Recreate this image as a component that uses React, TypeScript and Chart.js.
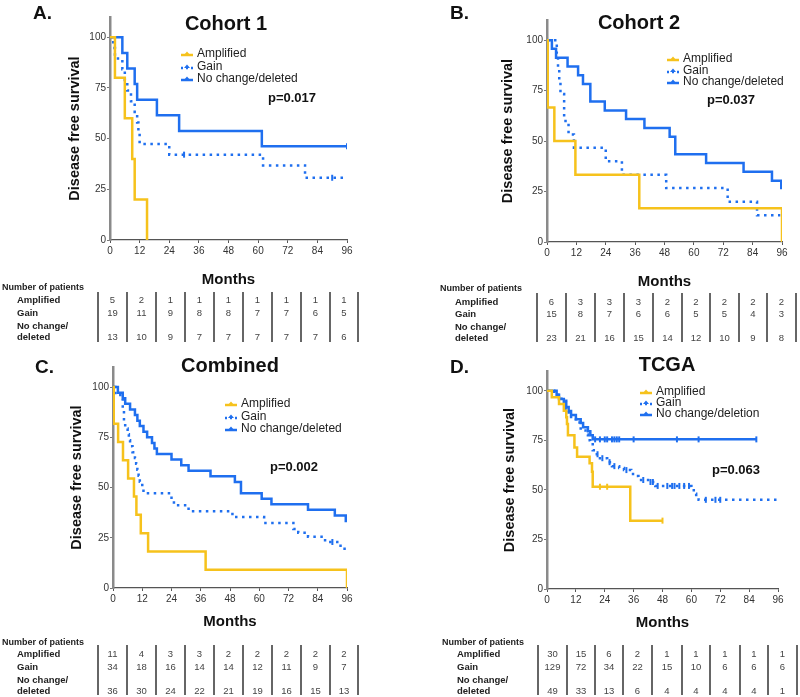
import React, { useEffect, useRef } from 'react';
import { Chart, registerables } from 'chart.js';
Chart.register(...registerables);

const FONT = "'Liberation Sans', Arial, Helvetica, sans-serif";
const YELLOW = '#F6C21C';
const BLUE = '#1F6FEF';

const monthTicks = [0, 12, 24, 36, 48, 60, 72, 84, 96];
const survivalTicks = [0, 25, 50, 75, 100];

// ---- Panel A: Cohort 1 ----
const aAmpT = [0, 2, 6, 9, 10, 15];
const aAmpS = [100, 80, 60, 40, 20, 0];
const aGainT = [0, 1.3, 2, 5, 6, 7, 8.5, 10, 11, 11.5, 12, 24, 62, 79, 96];
const aGainS = [100, 94.7, 89.5, 84.2, 78.9, 73.7, 68.4, 63.2, 57.9, 52.6, 47.4, 42.1, 36.8, 30.7, 30.7];
const aNcT = [0, 5, 7, 10, 11, 19, 28, 61.5, 96];
const aNcS = [100, 92.3, 84.6, 76.9, 69.2, 61.5, 53.8, 46.2, 46.2];
const aGainCens = [30, 90];
const aNcCens = [96];

// ---- Panel B: Cohort 2 ----
const bAmpT = [0, 0.3, 3, 11.6, 37.7, 96];
const bAmpS = [100, 66.7, 50, 33.3, 16.7, 0];
const bGainT = [0, 4, 4.5, 5, 5.5, 7, 8.8, 11, 24, 30.6, 48.7, 73.8, 85.8, 95.3];
const bGainS = [100, 93.3, 86.7, 80, 73.3, 60, 53.3, 46.7, 40, 33.3, 26.7, 20, 13.3, 13.3];
const bNcT = [0, 2, 3.7, 8.4, 12.7, 14.7, 17.7, 23.6, 32.3, 39.8, 50.1, 52.4, 65, 80.3, 91.9, 95.7];
const bNcS = [100, 95.7, 91.3, 87, 82.6, 78.3, 69.6, 65.2, 60.9, 56.5, 52.2, 43.5, 39.1, 34.8, 30.4, 26.1];

// ---- Panel C: Combined ----
const cAmpT = [0, 0.3, 2.1, 4.1, 6.2, 8.6, 9.6, 11.4, 14.4, 38, 96];
const cAmpS = [100, 81.8, 72.7, 63.6, 54.5, 45.5, 36.4, 27.3, 18.2, 9.1, 0];
const cGainT = [0, 1, 3, 4, 4.5, 5, 6, 6.5, 7, 8, 9, 9.5, 10, 10.5, 11, 12, 12.5, 24, 25, 31, 49, 62, 74, 76, 80, 87, 92, 95, 96];
const cGainS = [100, 97.1, 94.1, 88.2, 82.4, 79.4, 76.5, 73.5, 70.6, 67.6, 64.7, 61.8, 58.8, 55.9, 52.9, 50, 47.1, 44.1, 41.2, 38.2, 35.3, 32.4, 29.4, 27.5, 25.5, 22.9, 21, 18.4, 18.4];
const cNcT = [0, 2, 4, 5, 7, 9, 10, 11, 12.5, 14, 16, 17, 18, 24, 28, 31, 40, 50, 52.5, 61, 65, 80, 91, 95.5, 96];
const cNcS = [100, 97.2, 94.4, 91.7, 88.9, 86.1, 83.3, 80.6, 77.8, 75, 72.2, 69.4, 66.7, 63.9, 61.1, 58.3, 55.6, 52.8, 47.2, 44.4, 41.7, 38.9, 36.1, 33.3, 33.3];
const cGainCens = [90];

// ---- Panel D: TCGA ----
const dAmpT = [0, 2, 5, 7, 8, 8.3, 8.7, 11.4, 12.5, 17.7, 18.7, 19, 34.6, 48];
const dAmpS = [100, 96.7, 93.3, 90, 86.7, 83.3, 77.6, 71.4, 66.7, 63.4, 59.2, 51.6, 34.5, 34.5];
const dGainT = [0, 3, 6, 8, 9, 10, 12, 14, 16, 17, 18, 19, 20, 22, 25, 27, 30, 32, 35, 37, 38, 42, 45, 60, 61, 62, 63, 96];
const dGainS = [100, 98, 95, 91, 88, 86, 84, 80, 78, 75, 73, 70, 68, 66, 64, 62, 61, 60, 58, 57, 55, 54, 52, 51, 48, 46, 45, 45];
const dNcT = [0, 4, 5, 7, 8, 9, 10, 12, 14, 15, 17, 18, 19, 87];
const dNcS = [100, 98, 95.9, 93.9, 91.8, 89.8, 87.8, 85.7, 83.7, 81.6, 79.6, 77.6, 75.5, 75.5];
const dAmpCens = [22, 25, 48];
const dGainCens = [21, 23, 26, 28, 33, 40, 43, 44, 46, 50, 52, 53, 55, 57, 59, 66, 70, 72];
const dNcCens = [20, 22, 24, 25, 27, 28, 29, 30, 36, 54, 63, 87];

// ---- Number at risk tables ----
const aRiskAmp = [5, 2, 1, 1, 1, 1, 1, 1, 1];
const aRiskGain = [19, 11, 9, 8, 8, 7, 7, 6, 5];
const aRiskNc = [13, 10, 9, 7, 7, 7, 7, 7, 6];
const bRiskAmp = [6, 3, 3, 3, 2, 2, 2, 2, 2];
const bRiskGain = [15, 8, 7, 6, 6, 5, 5, 4, 3];
const bRiskNc = [23, 21, 16, 15, 14, 12, 10, 9, 8];
const cRiskAmp = [11, 4, 3, 3, 2, 2, 2, 2, 2];
const cRiskGain = [34, 18, 16, 14, 14, 12, 11, 9, 7];
const cRiskNc = [36, 30, 24, 22, 21, 19, 16, 15, 13];
const dRiskAmp = [30, 15, 6, 2, 1, 1, 1, 1, 1];
const dRiskGain = [129, 72, 34, 22, 15, 10, 6, 6, 6];
const dRiskNc = [49, 33, 13, 6, 4, 4, 4, 4, 1];

type Series = { label: string; t: number[]; s: number[]; color: string; dashed: boolean; censor: number[] };

function levelAt(t: number[], s: number[], time: number) {
  let v = s[0];
  for (let i = 0; i < t.length; i++) if (t[i] <= time) v = s[i];
  return v;
}

type PanelGeo = {
  left: number; top: number; w: number; h: number;
  pl: number; pr: number; pt: number; pb: number;
  wy: number; hx: number; yTitlePad: number; xTitlePad: number;
  title: string; titleX: number; titleY: number;
  legX: number; legY: number[];
  pText: string; pX: number; pY: number;
};

const annotPlugin = {
  id: 'kmAnnot',
  afterDraw(chart: any, _args: any, opts: any) {
    const ctx = chart.ctx as CanvasRenderingContext2D;
    ctx.save();
    ctx.fillStyle = '#111';
    ctx.font = `bold 20px ${FONT}`;
    ctx.textAlign = 'center';
    ctx.textBaseline = 'middle';
    ctx.fillText(opts.title, opts.titleX, opts.titleY);
    const series: Series[] = opts.series;
    series.forEach((sr, i) => {
      const y = opts.legY[i];
      const x0 = opts.legX;
      ctx.strokeStyle = sr.color;
      ctx.lineWidth = 2.5;
      ctx.setLineDash(sr.dashed ? [2, 3] : []);
      ctx.beginPath();
      ctx.moveTo(x0, y + 1);
      ctx.lineTo(x0 + 12, y + 1);
      ctx.stroke();
      ctx.setLineDash([]);
      ctx.fillStyle = sr.color;
      ctx.beginPath();
      ctx.moveTo(x0 + 3, y + 1);
      ctx.lineTo(x0 + 6, y - 2.5);
      ctx.lineTo(x0 + 9, y + 1);
      ctx.closePath();
      ctx.fill();
      ctx.fillStyle = '#222';
      ctx.font = `12px ${FONT}`;
      ctx.textAlign = 'left';
      ctx.fillText(sr.label, x0 + 16, y);
    });
    ctx.fillStyle = '#111';
    ctx.font = `bold 13px ${FONT}`;
    ctx.textAlign = 'left';
    ctx.fillText(opts.pText, opts.pX, opts.pY);
    ctx.restore();
  },
};

function KMPanel({ geo, series }: { geo: PanelGeo; series: Series[] }) {
  const ref = useRef<HTMLCanvasElement | null>(null);
  useEffect(() => {
    if (!ref.current) return;
    const datasets: any[] = [];
    series.forEach((sr) => {
      datasets.push({
        label: sr.label,
        data: sr.t.map((x, i) => ({ x, y: sr.s[i] })),
        stepped: 'before',
        borderColor: sr.color,
        borderWidth: 2.5,
        borderDash: sr.dashed ? [2.5, 4.5] : [],
        borderCapStyle: 'butt',
        pointRadius: 0,
        fill: false,
      });
    });
    series.forEach((sr) => {
      datasets.push({
        label: sr.label + ' censored',
        data: sr.censor.map((c) => ({ x: c, y: levelAt(sr.t, sr.s, c) })),
        showLine: false,
        pointStyle: 'line',
        rotation: 90,
        pointRadius: 3,
        borderColor: sr.color,
        backgroundColor: sr.color,
        borderWidth: 2,
      });
    });
    const tickFont = { size: 10, family: FONT };
    const chart = new Chart(ref.current, {
      type: 'line',
      data: { datasets },
      plugins: [annotPlugin],
      options: {
        responsive: false,
        animation: false,
        devicePixelRatio: 1,
        layout: { padding: { left: geo.pl, right: geo.pr, top: geo.pt, bottom: geo.pb } },
        plugins: {
          legend: { display: false },
          tooltip: { enabled: false },
          title: { display: false },
          kmAnnot: {
            title: geo.title, titleX: geo.titleX, titleY: geo.titleY,
            legX: geo.legX, legY: geo.legY, series,
            pText: geo.pText, pX: geo.pX, pY: geo.pY,
          },
        } as any,
        scales: {
          x: {
            type: 'linear',
            min: 0,
            max: 96,
            afterBuildTicks: (s: any) => { s.ticks = monthTicks.map((v) => ({ value: v })); },
            afterFit: (s: any) => { s.height = geo.hx; },
            ticks: { font: tickFont, color: '#333', padding: 2, maxRotation: 0, autoSkip: false },
            grid: { display: true, drawOnChartArea: false, drawTicks: true, tickLength: 3, color: '#555' },
            border: { display: true, color: '#555', width: 1.3 },
            title: {
              display: true, text: 'Months', color: '#111',
              font: { size: 15, weight: 'bold', family: FONT },
              padding: { top: 0, bottom: geo.xTitlePad },
            },
          },
          y: {
            type: 'linear',
            min: 0,
            max: 110,
            afterBuildTicks: (s: any) => { s.ticks = survivalTicks.map((v) => ({ value: v })); },
            afterFit: (s: any) => { s.width = geo.wy; },
            ticks: { font: tickFont, color: '#333', padding: 1 },
            grid: { display: true, drawOnChartArea: false, drawTicks: true, tickLength: 3, color: '#777' },
            border: { display: true, color: '#8a8a8a', width: 2.5 },
            title: {
              display: true, text: 'Disease free survival', color: '#111',
              font: { size: 14.5, weight: 'bold', family: FONT },
              padding: { top: geo.yTitlePad, bottom: 0 },
            },
          },
        },
      } as any,
    });
    return () => chart.destroy();
  }, []);
  return (
    <canvas
      ref={ref}
      width={geo.w}
      height={geo.h}
      style={{ position: 'absolute', left: geo.left, top: geo.top, width: geo.w, height: geo.h }}
    />
  );
}

function T({ x, y, children, bold, size, color, center }: any) {
  return (
    <div
      style={{
        position: 'absolute', left: x, top: y, whiteSpace: 'nowrap',
        fontFamily: FONT, fontSize: size, fontWeight: bold ? 'bold' : 'normal',
        color: color || '#222', lineHeight: 1,
        transform: center ? 'translate(-50%, -50%)' : 'translate(0, -50%)',
      }}
    >
      {children}
    </div>
  );
}

function RiskTable({ x0, headerY, ys, bars, barTop, barBottom, rows }: any) {
  const els: any[] = [];
  els.push(<T key="h" x={x0} y={headerY} bold size={9}>Number of patients</T>);
  els.push(<T key="l1" x={x0 + 15} y={ys[0]} bold size={9.5}>Amplified</T>);
  els.push(<T key="l2" x={x0 + 15} y={ys[1]} bold size={9.5}>Gain</T>);
  els.push(<T key="l3" x={x0 + 15} y={ys[2]} bold size={9.5}>No change/</T>);
  els.push(<T key="l4" x={x0 + 15} y={ys[3]} bold size={9.5}>deleted</T>);
  bars.forEach((bx: number, i: number) => {
    els.push(
      <div key={'b' + i} style={{ position: 'absolute', left: bx - 1, top: barTop, width: 2, height: barBottom - barTop, background: '#666' }} />
    );
  });
  const rowY = [ys[0], ys[1], ys[3]];
  rows.forEach((row: number[], r: number) => {
    row.forEach((v, i) => {
      const cx = (bars[i] + bars[i + 1]) / 2;
      els.push(<T key={`n${r}-${i}`} x={cx} y={rowY[r]} size={9.5} color="#444" center>{v}</T>);
    });
  });
  return <>{els}</>;
}

const geoA: PanelGeo = {
  left: 0, top: 0, w: 400, h: 300, pl: 60, pr: 53, pt: 17, pb: 0, wy: 50, hx: 60, yTitlePad: 6, xTitlePad: 11,
  title: 'Cohort 1', titleX: 226, titleY: 24, legX: 181, legY: [54, 67, 79],
  pText: 'p=0.017', pX: 268, pY: 98,
};
const geoB: PanelGeo = {
  left: 400, top: 0, w: 400, h: 300, pl: 93, pr: 18, pt: 20, pb: 0, wy: 54, hx: 58, yTitlePad: 6, xTitlePad: 9,
  title: 'Cohort 2', titleX: 239, titleY: 23, legX: 267, legY: [59, 71, 82],
  pText: 'p=0.037', pX: 307, pY: 100,
};
const geoC: PanelGeo = {
  left: 0, top: 350, w: 400, h: 300, pl: 62, pr: 53, pt: 17, pb: 0, wy: 51, hx: 62, yTitlePad: 6, xTitlePad: 19,
  title: 'Combined', titleX: 230, titleY: 16, legX: 225, legY: [54, 67, 79],
  pText: 'p=0.002', pX: 270, pY: 117,
};
const geoD: PanelGeo = {
  left: 400, top: 350, w: 400, h: 300, pl: 95, pr: 22, pt: 21, pb: 0, wy: 52, hx: 61, yTitlePad: 6, xTitlePad: 18,
  title: 'TCGA', titleX: 267, titleY: 15, legX: 240, legY: [42, 53, 64],
  pText: 'p=0.063', pX: 312, pY: 120,
};

const mk = (label: string, t: number[], s: number[], color: string, dashed: boolean, censor: number[]): Series =>
  ({ label, t, s, color, dashed, censor });

const seriesA = [
  mk('Amplified', aAmpT, aAmpS, YELLOW, false, []),
  mk('Gain', aGainT, aGainS, BLUE, true, aGainCens),
  mk('No change/deleted', aNcT, aNcS, BLUE, false, aNcCens),
];
const seriesB = [
  mk('Amplified', bAmpT, bAmpS, YELLOW, false, []),
  mk('Gain', bGainT, bGainS, BLUE, true, []),
  mk('No change/deleted', bNcT, bNcS, BLUE, false, []),
];
const seriesC = [
  mk('Amplified', cAmpT, cAmpS, YELLOW, false, []),
  mk('Gain', cGainT, cGainS, BLUE, true, cGainCens),
  mk('No change/deleted', cNcT, cNcS, BLUE, false, []),
];
const seriesD = [
  mk('Amplified', dAmpT, dAmpS, YELLOW, false, dAmpCens),
  mk('Gain', dGainT, dGainS, BLUE, true, dGainCens),
  mk('No change/deletion', dNcT, dNcS, BLUE, false, dNcCens),
];

const barsA = [98, 127, 156, 185, 214, 243, 272, 301, 330, 358];
const barsB = [537, 566, 595, 624, 653, 682, 710, 739, 767, 796];
const barsD = [538, 567, 595, 623, 652, 682, 710, 740, 768, 797];

export default function App() {
  return (
    <div style={{ position: 'absolute', left: 0, top: 0, width: 800, height: 697, background: '#fff', overflow: 'hidden' }}>
      <KMPanel geo={geoA} series={seriesA} />
      <KMPanel geo={geoB} series={seriesB} />
      <KMPanel geo={geoC} series={seriesC} />
      <KMPanel geo={geoD} series={seriesD} />
      <T x={33} y={12} bold size={19} color="#111">A.</T>
      <T x={450} y={12} bold size={19} color="#111">B.</T>
      <T x={35} y={366} bold size={19} color="#111">C.</T>
      <T x={450} y={366} bold size={19} color="#111">D.</T>
      <RiskTable x0={2} headerY={287} ys={[300, 313, 326, 337]} bars={barsA} barTop={292} barBottom={342}
        rows={[aRiskAmp, aRiskGain, aRiskNc]} />
      <RiskTable x0={440} headerY={288} ys={[302, 314, 327, 338]} bars={barsB} barTop={293} barBottom={342}
        rows={[bRiskAmp, bRiskGain, bRiskNc]} />
      <RiskTable x0={2} headerY={642} ys={[654, 667, 680, 691]} bars={barsA} barTop={645} barBottom={695}
        rows={[cRiskAmp, cRiskGain, cRiskNc]} />
      <RiskTable x0={442} headerY={642} ys={[654, 667, 680, 691]} bars={barsD} barTop={645} barBottom={695}
        rows={[dRiskAmp, dRiskGain, dRiskNc]} />
    </div>
  );
}
